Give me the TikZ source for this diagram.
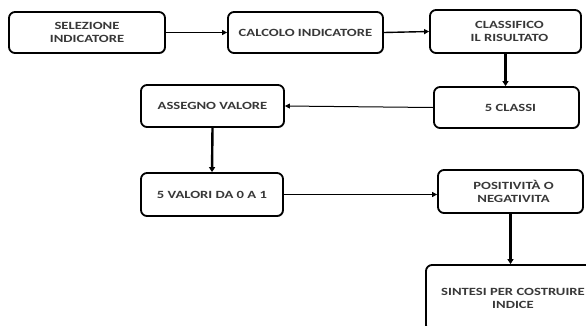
\documentclass[tikz,border=0pt]{standalone}
\usepackage{fontspec}
\setmainfont{Carlito}[FakeStretch=1.33]
\usetikzlibrary{arrows.meta,shadows}
\definecolor{txt}{HTML}{383838}
\begin{document}
\begin{tikzpicture}[x=1pt,y=-1pt,
  box/.style={draw=black,line width=1.8pt,rounded corners=6pt,fill=white,
    align=center,font=\fontsize{11}{13}\selectfont\bfseries,text=txt,
    inner sep=0pt,
    drop shadow={shadow xshift=0.6pt,shadow yshift=-0.8pt,opacity=0.5,fill=black}},
  conn/.style={draw=black,line width=1.4pt,-{Triangle[length=5pt,width=5pt]}},
  vconn/.style={draw=black,line width=2.4pt,-{Triangle[length=5pt,width=6pt]}},
  thin/.style={draw=black,line width=1pt,-{Triangle[length=5pt,width=5pt]}}]
\useasboundingbox (0,0) rectangle (586,325);
\clip (0,0) rectangle (586,325);
\node[box,minimum width=156pt,minimum height=41pt] (b1) at (87,32.5) {SELEZIONE\\INDICATORE};
\node[box,minimum width=155pt,minimum height=41pt] (b2) at (305.5,32.5) {CALCOLO INDICATORE};
\node[box,minimum width=151pt,minimum height=43pt] (b3) at (505.5,31.5) {\hspace*{8pt}CLASSIFICO\\\hspace*{8pt}IL RISULTATO};
\node[box,minimum width=145pt,minimum height=41pt] (b4) at (506.5,107.5) {\hspace*{8pt}5 CLASSI};
\node[box,minimum width=143pt,minimum height=42pt] (b5) at (212.5,106) {ASSEGNO VALORE};
\node[box,minimum width=142pt,minimum height=43pt] (b6) at (212,194.5) {5 VALORI DA 0 A 1};
\node[box,minimum width=145pt,minimum height=43pt] (b7) at (510.5,191.5) {\hspace*{6pt}POSITIVITÀ O\\\hspace*{6pt}NEGATIVITA};
\node[box,minimum width=174pt,minimum height=66pt] (b8) at (513,298) {SINTESI PER COSTRUIRE\\INDICE};
\draw[conn] (b1.east) -- (b2.west);
\draw[conn] (b2.east) -- (b3.west);
\draw[vconn] (b3.south) -- (b3.south |- b4.north);
\draw[thin] (b4.west) -- (b5.east);
\draw[vconn] (b5.south) -- (b6.north);
\draw[thin] (b6.east) -- (b6.east -| b7.west);
\draw[vconn] (b7.south) -- (b7.south |- b8.north);
\end{tikzpicture}
\end{document}
